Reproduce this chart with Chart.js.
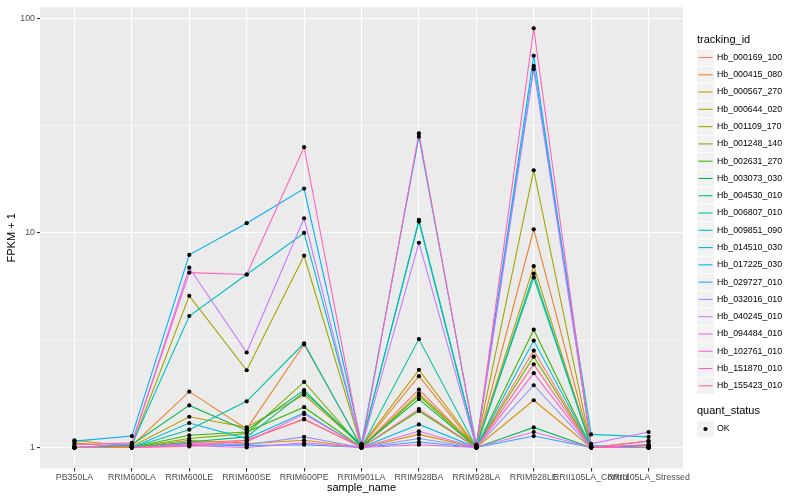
<!DOCTYPE html>
<html><head><meta charset="utf-8">
<script src="https://cdn.jsdelivr.net/npm/chart.js@4"></script>
<style>html,body{margin:0;padding:0;background:#fff}#wrap{width:800px;height:500px;position:relative}</style>
</head><body><div id="wrap"><canvas id="c" width="800" height="500"></canvas></div>
<script>
// ---------- data ----------
const categories = ['PB350LA','RRIM600LA','RRIM600LE','RRIM600SE','RRIM600PE','RRIM901LA','RRIM928BA','RRIM928LA','RRIM928LE','RRII105LA_Control','RRII105LA_Stressed'];
const trackingIds = ['Hb_000169_100','Hb_000415_080','Hb_000567_270','Hb_000644_020','Hb_001109_170','Hb_001248_140','Hb_002631_270','Hb_003073_030','Hb_004530_010','Hb_006807_010','Hb_009851_090','Hb_014510_030','Hb_017225_030','Hb_029727_010','Hb_032016_010','Hb_040245_010','Hb_094484_010','Hb_102761_010','Hb_151870_010','Hb_155423_010'];
const Hb_000169_100 = [1.00, 1.00, 1.05, 1.08, 1.35, 1.00, 1.86, 1.00, 2.83, 1.00, 1.07];
const Hb_000415_080 = [1.00, 1.02, 1.82, 1.22, 3.02, 1.01, 2.15, 1.00, 10.4, 1.00, 1.00];
const Hb_000567_270 = [1.05, 1.00, 1.08, 1.04, 1.08, 1.00, 1.15, 1.00, 1.66, 1.00, 1.00];
const Hb_000644_020 = [1.08, 1.01, 1.39, 1.24, 1.76, 1.02, 2.30, 1.01, 7.0, 1.00, 1.00];
const Hb_001109_170 = [1.00, 1.02, 5.09, 2.29, 7.83, 1.00, 1.78, 1.02, 19.6, 1.00, 1.00];
const Hb_001248_140 = [1.00, 1.00, 1.10, 1.16, 2.02, 1.00, 1.74, 1.00, 2.65, 1.00, 1.02];
const Hb_002631_270 = [1.00, 1.00, 1.14, 1.18, 1.54, 1.00, 1.48, 1.00, 3.54, 1.00, 1.00];
const Hb_003073_030 = [1.00, 1.03, 1.57, 1.20, 1.85, 1.01, 1.68, 1.00, 1.24, 1.00, 1.03];
const Hb_004530_010 = [1.00, 1.00, 1.06, 1.12, 1.81, 1.03, 11.3, 1.01, 6.2, 1.01, 1.00];
const Hb_006807_010 = [1.00, 1.00, 1.21, 1.64, 3.06, 1.00, 3.2, 1.00, 6.46, 1.00, 1.00];
const Hb_009851_090 = [1.00, 1.03, 4.1, 6.4, 10.0, 1.02, 11.5, 1.03, 60, 1.15, 1.12];
const Hb_014510_030 = [1.00, 1.00, 1.30, 1.10, 1.45, 1.00, 1.28, 1.00, 3.15, 1.00, 1.00];
const Hb_017225_030 = [1.07, 1.13, 7.9, 11.1, 16.1, 1.04, 28.1, 1.02, 67, 1.02, 1.00];
const Hb_029727_010 = [1.00, 1.00, 1.03, 1.02, 1.03, 1.00, 1.06, 1.00, 1.13, 1.00, 1.00];
const Hb_032016_010 = [1.00, 1.00, 1.04, 1.03, 1.12, 1.00, 1.10, 1.00, 1.95, 1.00, 1.00];
const Hb_040245_010 = [1.00, 1.04, 6.89, 2.77, 11.7, 1.00, 9.0, 1.00, 58, 1.04, 1.18];
const Hb_094484_010 = [1.00, 1.00, 1.02, 1.00, 1.05, 1.00, 1.19, 1.00, 1.18, 1.00, 1.00];
const Hb_102761_010 = [1.00, 1.00, 1.03, 1.06, 1.43, 1.00, 1.03, 1.00, 2.22, 1.00, 1.03];
const Hb_151870_010 = [1.03, 1.05, 6.53, 6.4, 25.1, 1.00, 29.1, 1.00, 90, 1.00, 1.00];
const Hb_155423_010 = [1.00, 1.00, 1.01, 1.08, 1.36, 1.00, 1.51, 1.00, 2.44, 1.00, 1.07];
const seriesValues = [Hb_000169_100, Hb_000415_080, Hb_000567_270, Hb_000644_020, Hb_001109_170, Hb_001248_140, Hb_002631_270, Hb_003073_030, Hb_004530_010, Hb_006807_010, Hb_009851_090, Hb_014510_030, Hb_017225_030, Hb_029727_010, Hb_032016_010, Hb_040245_010, Hb_094484_010, Hb_102761_010, Hb_151870_010, Hb_155423_010];
const yMajorTicks = [1, 10, 100];
const yMinorTicks = [3.1623, 31.623];
const xTitle = 'sample_name';
const yTitle = 'FPKM + 1';
const colourTitle = 'tracking_id';
const shapeTitle = 'quant_status';
const shapeLabels = ['OK'];

// ---------- style ----------
const palette = ['#F8766D','#EA8331','#D89000','#C09B00','#A3A500','#7CAE00','#39B600','#00BB4E','#00BF7D','#00C1A3','#00BFC4','#00BAE0','#00B0F6','#35A2FF','#9590FF','#C77CFF','#E76BF3','#FA62DB','#FF62BC','#FF6C91'];
const FONT = '"Liberation Sans", Arial, Helvetica, sans-serif';

const allVals = seriesValues.flat();
const lmin = Math.log10(Math.min(...allVals)), lmax = Math.log10(Math.max(...allVals));
const ex = (lmax - lmin) * 0.05;
const yMin = Math.pow(10, lmin - ex), yMax = Math.pow(10, lmax + ex);

const datasets = seriesValues.map((vals, i) => ({
  label: trackingIds[i],
  data: vals.map((v, j) => ({x: j, y: v})),
  borderColor: palette[i], backgroundColor: palette[i],
  borderWidth: 1.1, pointRadius: 0, tension: 0, fill: false,
  order: 100 - i
}));
datasets.push({
  label: 'points',
  data: seriesValues.flatMap(vals => vals.map((v, j) => ({x: j, y: v}))),
  showLine: false, pointRadius: 2.1, pointBackgroundColor: '#000', pointBorderWidth: 0,
  borderColor: '#000', order: 0
});

const decor = {
  id: 'decor',
  beforeDraw(chart) {
    const {ctx, chartArea: a} = chart;
    ctx.save();
    ctx.fillStyle = '#EBEBEB';
    ctx.fillRect(a.left, a.top, a.right - a.left, a.bottom - a.top);
    ctx.restore();
  },
  afterDraw(chart) {
    const {ctx, chartArea: a} = chart;
    ctx.save();
    ctx.fillStyle = '#000';
    ctx.font = '11px ' + FONT;
    ctx.textAlign = 'center'; ctx.textBaseline = 'middle';
    ctx.fillText(xTitle, (a.left + a.right) / 2, 488);
    ctx.save();
    ctx.translate(12, (a.top + a.bottom) / 2);
    ctx.rotate(-Math.PI / 2);
    ctx.fillText(yTitle, 0, 0);
    ctx.restore();
    // legend
    const lx = 697, kw = 17, step = 17.28;
    ctx.textAlign = 'left';
    ctx.font = '11px ' + FONT;
    ctx.fillText(colourTitle, lx, 40);
    ctx.font = '8.8px ' + FONT;
    trackingIds.forEach((id, i) => {
      const cy = 57.5 + step * i;
      ctx.fillStyle = '#F2F2F2';
      ctx.fillRect(lx, cy - step / 2 + 0.5, kw, step - 1);
      ctx.strokeStyle = palette[i]; ctx.lineWidth = 1.1;
      ctx.beginPath(); ctx.moveTo(lx + 1.5, cy); ctx.lineTo(lx + kw - 1.5, cy); ctx.stroke();
      ctx.fillStyle = '#000';
      ctx.fillText(id, lx + kw + 3, cy);
    });
    ctx.font = '11px ' + FONT;
    ctx.fillText(shapeTitle, lx, 411);
    ctx.font = '8.8px ' + FONT;
    shapeLabels.forEach((lab, i) => {
      const cy = 429 + step * i;
      ctx.fillStyle = '#F2F2F2';
      ctx.fillRect(lx, cy - step / 2 + 0.5, kw, step - 1);
      ctx.fillStyle = '#000';
      ctx.beginPath(); ctx.arc(lx + kw / 2, cy, 2.1, 0, Math.PI * 2); ctx.fill();
      ctx.fillText(lab, lx + kw + 3, cy);
    });
    ctx.restore();
  }
};

new Chart(document.getElementById('c'), {
  type: 'line',
  data: {datasets},
  options: {
    responsive: false, animation: false, devicePixelRatio: 1,
    layout: {padding: {left: 0, right: 117, top: 5, bottom: 0}},
    plugins: {legend: {display: false}, tooltip: {enabled: false}},
    scales: {
      x: {
        type: 'linear', min: -0.6, max: categories.length - 1 + 0.6,
        afterBuildTicks: s => { s.ticks = categories.map((_, i) => ({value: i})); },
        afterFit: s => { s.height = 31.6; },
        ticks: {callback: v => categories[v], autoSkip: false, maxRotation: 0, minRotation: 0,
          color: '#4D4D4D', font: {family: FONT, size: 8.8}, padding: 1},
        grid: {color: '#FFFFFF', lineWidth: 1.1, tickColor: '#333333', tickLength: 3, drawTicks: true},
        border: {display: false}
      },
      y: {
        type: 'logarithmic', min: yMin, max: yMax,
        afterBuildTicks: s => {
          s.ticks = yMajorTicks.concat(yMinorTicks).sort((p, q) => p - q).map(v => ({value: v, major: yMajorTicks.includes(v)}));
        },
        afterFit: s => { s.width = 40; },
        ticks: {callback: v => yMajorTicks.includes(v) ? String(v) : '', autoSkip: false,
          color: '#4D4D4D', font: {family: FONT, size: 8.8}, padding: 2},
        grid: {color: '#FFFFFF',
          lineWidth: c => (c.tick && yMajorTicks.includes(c.tick.value)) ? 1.1 : 0.55,
          tickColor: c => (c.tick && yMajorTicks.includes(c.tick.value)) ? '#333333' : 'rgba(0,0,0,0)',
          tickLength: 3, drawTicks: true},
        border: {display: false}
      }
    }
  },
  plugins: [decor]
});
</script></body></html>
